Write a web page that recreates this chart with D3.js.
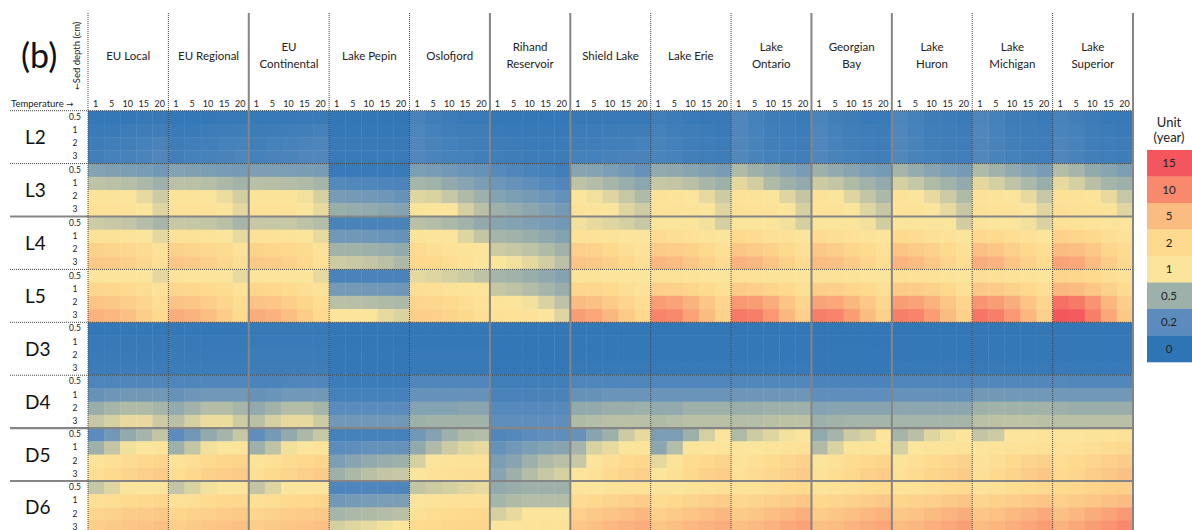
<!DOCTYPE html>
<html>
<head>
<meta charset="utf-8">
<script src="https://cdn.jsdelivr.net/npm/d3@7/dist/d3.min.js"></script>
<style>
  html, body { margin: 0; padding: 0; background: #fff; }
  svg { display: block; font-family: Lato, "Open Sans", sans-serif; }
</style>
</head>
<body>
<svg id="chart" width="1192" height="530"></svg>
<script>
// ---- categories ----
const sites = ["EU Local", "EU Regional", "EU\nContinental", "Lake Pepin", "Oslofjord",
  "Rihand\nReservoir", "Shield Lake", "Lake Erie", "Lake\nOntario", "Georgian\nBay",
  "Lake\nHuron", "Lake\nMichigan", "Lake\nSuperior"];
const temps = ["1", "5", "10", "15", "20"];
const depths = ["0.5", "1", "2", "3"];
const groups = ["L2", "L3", "L4", "L5", "D3", "D4", "D5", "D6"];

// ---- colour key (years) ----
const legendValues = [15, 10, 5, 2, 1, 0.5, 0.2, 0];
const legendColors = ["#f3565c", "#f8896d", "#fbbc82", "#fdda8e", "#fbe59c", "#9db0aa", "#5b8cbd", "#2e75b6"];

// ---- values: [site][depth 0.5,1,2,3][temperature 1..20] ----
const valuesL2 = [
  [[.03,.03,.03,.04,.04],[.05,.05,.06,.07,.08],[.07,.08,.09,.10,.12],[.09,.10,.11,.13,.15]],
  [[.03,.03,.03,.04,.04],[.05,.05,.06,.07,.08],[.07,.08,.09,.10,.11],[.09,.10,.11,.12,.14]],
  [[.04,.04,.04,.05,.05],[.06,.07,.08,.09,.10],[.09,.10,.11,.13,.14],[.10,.12,.13,.15,.16]],
  [[.02,.02,.02,.02,.02],[.03,.03,.03,.03,.03],[.04,.04,.04,.04,.04],[.05,.05,.05,.05,.05]],
  [[.12,.08,.06,.05,.05],[.14,.10,.08,.07,.07],[.15,.12,.10,.09,.08],[.16,.13,.11,.10,.09]],
  [[.03,.03,.03,.03,.03],[.05,.04,.04,.04,.04],[.07,.06,.05,.05,.05],[.08,.07,.06,.06,.06]],
  [[.04,.04,.04,.04,.04],[.06,.06,.06,.07,.07],[.08,.08,.09,.09,.10],[.10,.10,.11,.12,.12]],
  [[.08,.06,.05,.04,.04],[.10,.08,.07,.06,.05],[.12,.10,.08,.07,.06],[.13,.11,.09,.08,.07]],
  [[.15,.10,.07,.06,.05],[.15,.11,.08,.07,.06],[.16,.12,.09,.08,.07],[.16,.12,.10,.09,.08]],
  [[.13,.09,.07,.05,.05],[.14,.10,.08,.07,.06],[.15,.11,.09,.08,.07],[.15,.12,.10,.09,.08]],
  [[.14,.10,.07,.06,.05],[.15,.11,.08,.07,.06],[.16,.12,.09,.08,.07],[.16,.12,.10,.09,.08]],
  [[.14,.10,.07,.06,.05],[.15,.11,.08,.07,.06],[.15,.12,.09,.08,.07],[.16,.12,.10,.09,.08]],
  [[.12,.09,.06,.04,.04],[.13,.10,.07,.06,.05],[.14,.11,.08,.07,.06],[.15,.12,.09,.08,.07]]
];
const valuesL3 = [
  [[.38,.37,.35,.33,.30],[.68,.66,.63,.58,.50],[1.2,1.2,1.1,.90,.75],[1.4,1.4,1.3,1.0,.85]],
  [[.38,.37,.35,.33,.32],[.66,.66,.63,.58,.52],[1.2,1.2,1.1,.92,.78],[1.4,1.4,1.3,1.1,.88]],
  [[.36,.36,.35,.34,.33],[.65,.64,.62,.60,.55],[1.2,1.2,1.15,.95,.80],[1.4,1.4,1.3,1.1,.90]],
  [[.05,.05,.05,.05,.05],[.17,.16,.15,.14,.13],[.33,.32,.30,.28,.25],[.48,.47,.45,.42,.38]],
  [[.35,.33,.30,.27,.25],[.55,.52,.45,.40,.35],[.85,.82,.72,.60,.50],[1.2,1.1,1.0,.80,.65]],
  [[.18,.15,.13,.10,.08],[.28,.25,.22,.18,.15],[.38,.35,.32,.28,.24],[.50,.47,.42,.37,.32]],
  [[.40,.38,.35,.30,.25],[.68,.62,.55,.48,.42],[1.1,.95,.85,.72,.60],[1.3,1.2,1.0,.85,.75]],
  [[.45,.43,.40,.37,.33],[.72,.70,.65,.57,.50],[1.3,1.2,1.1,.90,.75],[1.4,1.3,1.2,1.1,.85]],
  [[.60,.50,.45,.38,.33],[.88,.78,.60,.50,.45],[1.3,1.2,1.0,.85,.70],[1.5,1.4,1.3,1.0,.80]],
  [[.50,.45,.40,.35,.32],[.75,.70,.60,.52,.45],[1.3,1.0,.85,.70,.58],[1.4,1.3,1.0,.85,.72]],
  [[.55,.47,.40,.35,.32],[.80,.72,.60,.52,.45],[1.3,1.1,.90,.75,.60],[1.4,1.3,1.1,.90,.72]],
  [[.60,.52,.45,.38,.33],[.88,.80,.68,.58,.48],[1.3,1.2,1.1,.90,.72],[1.5,1.4,1.3,1.1,.85]],
  [[.62,.55,.45,.40,.35],[.90,.80,.65,.55,.50],[1.4,1.3,1.2,.90,.72],[1.6,1.5,1.4,1.2,.85]]
];
const valuesL4 = [
  [[.75,.73,.70,.62,.55],[1.3,1.3,1.2,1.1,.88],[2.8,2.6,2.3,1.8,1.3],[3.8,3.5,3.0,2.3,1.6]],
  [[.73,.72,.70,.65,.55],[1.3,1.3,1.2,1.1,.90],[2.8,2.6,2.3,1.8,1.3],[3.9,3.6,3.0,2.3,1.6]],
  [[.73,.72,.72,.68,.62],[1.3,1.3,1.2,1.1,.90],[2.7,2.5,2.2,1.8,1.3],[3.6,3.3,2.9,2.2,1.5]],
  [[.12,.12,.12,.12,.12],[.30,.30,.28,.27,.25],[.52,.52,.50,.48,.45],[.75,.73,.70,.65,.58]],
  [[.65,.62,.58,.52,.45],[1.2,1.1,1.0,.85,.70],[1.8,1.6,1.4,1.2,1.0],[2.2,2.0,1.7,1.4,1.1]],
  [[.40,.38,.36,.33,.30],[.55,.52,.48,.43,.38],[.75,.72,.68,.60,.52],[1.0,.95,.88,.78,.65]],
  [[.95,.90,.85,.80,.72],[1.4,1.3,1.2,1.1,1.0],[3.0,2.7,2.2,1.6,1.3],[4.2,3.8,3.0,2.2,1.6]],
  [[1.1,1.05,1.0,.95,.80],[1.8,1.6,1.4,1.2,1.05],[3.5,3.2,2.8,2.0,1.5],[5.5,5.0,4.0,2.8,1.8]],
  [[1.1,1.05,1.0,.95,.80],[2.0,1.8,1.5,1.3,1.1],[4.0,3.5,2.8,2.0,1.5],[6.0,5.5,4.2,2.8,1.8]],
  [[1.1,1.05,1.0,.95,.78],[1.8,1.6,1.4,1.2,1.05],[3.8,3.2,2.5,1.9,1.4],[5.0,4.5,3.5,2.5,1.7]],
  [[1.1,1.05,1.0,1.0,.78],[2.0,1.8,1.5,1.3,1.1],[4.2,3.5,2.8,2.0,1.5],[5.8,5.0,3.8,2.6,1.7]],
  [[1.2,1.1,1.05,.95,.82],[2.2,2.0,1.7,1.4,1.1],[4.5,4.0,3.0,2.2,1.6],[6.5,5.8,4.2,2.8,1.9]],
  [[1.4,1.3,1.2,1.1,1.0],[2.8,2.5,2.1,1.6,1.3],[5.0,4.8,3.8,2.5,1.8],[7.5,7.0,5.0,3.3,2.1]]
];
const valuesL5 = [
  [[1.1,1.1,1.05,1.0,.88],[2.5,2.3,2.0,1.7,1.3],[4.2,3.8,3.2,2.5,1.7],[6.0,5.5,4.5,3.2,2.0]],
  [[1.15,1.1,1.05,1.0,.90],[2.5,2.3,2.0,1.7,1.3],[4.3,3.9,3.2,2.5,1.7],[6.5,6.0,4.8,3.3,2.0]],
  [[1.1,1.1,1.05,1.0,.90],[2.4,2.2,1.9,1.6,1.3],[4.3,3.9,3.2,2.4,1.7],[6.5,6.0,4.8,3.3,2.0]],
  [[.12,.12,.12,.12,.12],[.32,.32,.30,.30,.28],[.65,.64,.62,.60,.58],[1.1,1.05,1.0,.90,.82]],
  [[.88,.85,.80,.75,.68],[1.6,1.5,1.3,1.2,1.05],[2.5,2.3,2.0,1.7,1.4],[3.2,3.0,2.6,2.1,1.6]],
  [[.55,.52,.48,.43,.38],[.72,.68,.62,.55,.48],[1.2,1.1,.95,.82,.68],[1.5,1.4,1.25,1.05,.85]],
  [[1.2,1.15,1.1,1.05,1.0],[2.5,2.3,2.0,1.6,1.3],[5.0,4.5,3.5,2.5,1.7],[8.0,7.2,5.5,3.5,2.2]],
  [[1.3,1.25,1.2,1.1,1.05],[3.0,2.8,2.4,1.9,1.5],[8.0,7.5,6.0,4.0,2.5],[10.5,10,7.5,5.0,2.8]],
  [[1.4,1.3,1.2,1.15,1.05],[3.5,3.2,2.6,2.0,1.5],[8.5,8.0,6.5,4.2,2.5],[11.5,11,8.5,5.5,3.0]],
  [[1.3,1.25,1.2,1.1,1.05],[3.2,3.0,2.5,2.0,1.5],[7.5,7.0,5.5,3.8,2.3],[11,10.5,8.0,5.0,2.8]],
  [[1.5,1.4,1.3,1.15,1.05],[3.5,3.3,2.8,2.1,1.5],[8.0,7.5,6.0,4.0,2.4],[11,10.5,8.0,5.0,2.8]],
  [[1.6,1.5,1.3,1.2,1.05],[3.8,3.5,2.9,2.2,1.6],[9.0,8.0,6.5,4.2,2.5],[12,11,8.5,5.5,3.0]],
  [[2.5,2.3,2.0,1.6,1.3],[5.5,5.0,4.0,2.8,1.9],[12.5,11.5,9.0,5.5,3.2],[15,14.5,11,7.0,3.8]]
];
const valuesD3 = [
  [[.03,.03,.03,.03,.03],[.04,.04,.04,.04,.04],[.05,.05,.05,.05,.05],[.06,.06,.06,.06,.06]],
  [[.03,.03,.03,.03,.03],[.04,.04,.04,.04,.04],[.05,.05,.05,.05,.05],[.06,.06,.06,.06,.06]],
  [[.04,.04,.04,.04,.04],[.05,.05,.05,.05,.05],[.06,.06,.06,.06,.06],[.07,.07,.07,.07,.07]],
  [[.02,.02,.02,.02,.02],[.02,.02,.02,.02,.02],[.03,.03,.03,.03,.03],[.03,.03,.03,.03,.03]],
  [[.03,.03,.03,.03,.03],[.03,.03,.03,.03,.03],[.04,.04,.04,.04,.04],[.04,.04,.04,.04,.04]],
  [[.02,.02,.02,.02,.02],[.02,.02,.02,.02,.02],[.02,.02,.02,.02,.02],[.03,.03,.03,.03,.03]],
  [[.02,.02,.02,.02,.02],[.03,.03,.03,.03,.03],[.03,.03,.03,.03,.03],[.04,.04,.04,.04,.04]],
  [[.02,.02,.02,.02,.02],[.03,.03,.03,.03,.03],[.03,.03,.03,.03,.03],[.04,.04,.04,.04,.04]],
  [[.02,.02,.02,.02,.02],[.03,.03,.03,.03,.03],[.03,.03,.03,.03,.03],[.04,.04,.04,.04,.04]],
  [[.02,.02,.02,.02,.02],[.02,.02,.02,.02,.02],[.03,.03,.03,.03,.03],[.03,.03,.03,.03,.03]],
  [[.02,.02,.02,.02,.02],[.03,.03,.03,.03,.03],[.03,.03,.03,.03,.03],[.04,.04,.04,.04,.04]],
  [[.02,.02,.02,.02,.02],[.03,.03,.03,.03,.03],[.03,.03,.03,.03,.03],[.04,.04,.04,.04,.04]],
  [[.02,.02,.02,.02,.02],[.03,.03,.03,.03,.03],[.03,.03,.03,.03,.03],[.04,.04,.04,.04,.04]]
];
const valuesD4 = [
  [[.14,.14,.15,.15,.15],[.25,.28,.30,.30,.30],[.48,.55,.60,.60,.55],[.72,.80,.90,.90,.75]],
  [[.14,.14,.15,.15,.15],[.25,.28,.30,.30,.30],[.45,.52,.62,.62,.55],[.65,.80,.92,.92,.75]],
  [[.13,.13,.14,.15,.15],[.25,.27,.30,.30,.30],[.45,.52,.62,.62,.55],[.65,.80,.90,.90,.75]],
  [[.06,.06,.06,.06,.06],[.10,.10,.10,.10,.10],[.20,.20,.20,.20,.20],[.30,.30,.30,.30,.30]],
  [[.15,.15,.15,.15,.15],[.25,.25,.25,.25,.25],[.38,.38,.38,.40,.40],[.50,.52,.52,.52,.52]],
  [[.08,.08,.08,.08,.08],[.12,.12,.12,.12,.12],[.18,.18,.18,.18,.18],[.22,.22,.22,.22,.22]],
  [[.14,.14,.14,.14,.14],[.25,.25,.27,.27,.27],[.45,.45,.48,.48,.50],[.60,.62,.65,.65,.65]],
  [[.15,.15,.15,.15,.15],[.27,.27,.27,.27,.27],[.45,.45,.50,.50,.50],[.60,.62,.65,.65,.65]],
  [[.16,.16,.16,.16,.16],[.28,.28,.28,.28,.28],[.48,.48,.50,.50,.50],[.62,.63,.65,.67,.67]],
  [[.13,.13,.13,.13,.13],[.22,.22,.22,.22,.22],[.38,.40,.40,.40,.40],[.50,.52,.55,.55,.55]],
  [[.15,.15,.15,.14,.14],[.25,.25,.25,.24,.24],[.42,.42,.42,.42,.42],[.55,.55,.55,.55,.55]],
  [[.16,.16,.16,.16,.16],[.30,.30,.30,.30,.30],[.50,.52,.52,.52,.52],[.65,.67,.68,.68,.65]],
  [[.17,.16,.16,.16,.16],[.30,.30,.30,.30,.30],[.50,.48,.48,.48,.48],[.65,.65,.65,.65,.65]]
];
const valuesD5 = [
  [[.20,.30,.45,.55,.70],[.50,.70,.95,1.1,1.2],[1.2,1.5,1.8,2.2,2.5],[1.6,2.0,2.6,3.0,3.5]],
  [[.20,.30,.45,.55,.72],[.50,.70,.95,1.1,1.2],[1.3,1.6,2.0,2.4,2.6],[1.7,2.2,2.8,3.2,3.5]],
  [[.22,.32,.45,.58,.72],[.50,.68,.95,1.1,1.2],[1.2,1.5,1.8,2.2,2.5],[1.6,2.0,2.5,3.0,3.5]],
  [[.10,.10,.10,.10,.10],[.20,.22,.24,.25,.25],[.35,.40,.45,.48,.50],[.50,.58,.65,.70,.72]],
  [[.30,.38,.50,.60,.62],[.45,.60,.75,.85,.90],[.80,1.1,1.2,1.3,1.3],[1.1,1.3,1.5,1.6,1.6]],
  [[.15,.17,.20,.22,.22],[.25,.30,.35,.38,.40],[.35,.40,.50,.60,.65],[.40,.50,.62,.72,.80]],
  [[.25,.40,.50,.75,.90],[.55,.82,.90,1.1,1.2],[.72,1.1,1.6,2.0,2.3],[1.0,1.4,2.0,2.6,3.0]],
  [[.35,.35,.50,.80,1.1],[.42,.62,1.05,1.1,1.2],[.88,1.2,1.8,2.2,2.6],[1.1,1.5,2.2,2.8,3.2]],
  [[.60,.75,.85,.95,1.1],[1.05,1.1,1.2,1.3,1.4],[1.2,1.5,1.9,2.3,2.8],[1.4,1.8,2.3,2.8,3.5]],
  [[.45,.55,.75,.82,1.05],[.60,.82,1.1,1.15,1.2],[1.1,1.4,1.8,2.2,2.6],[1.3,1.7,2.2,2.8,3.3]],
  [[.55,.65,.85,.95,1.1],[.80,1.05,1.15,1.2,1.3],[1.15,1.5,1.9,2.3,2.8],[1.4,1.8,2.4,2.9,3.5]],
  [[.70,.75,1.05,1.1,1.15],[1.1,1.15,1.3,1.4,1.5],[1.3,1.6,2.0,2.6,3.0],[1.5,2.0,2.6,3.3,4.0]],
  [[1.1,1.1,1.15,1.2,1.3],[1.3,1.4,1.6,1.8,2.0],[1.7,2.0,2.5,3.0,3.5],[2.0,2.5,3.2,3.8,4.5]]
];
const valuesD6 = [
  [[.72,.85,1.05,1.1,1.1],[1.5,1.7,2.0,2.2,2.4],[2.5,2.8,3.3,3.5,3.8],[3.2,3.6,4.0,4.3,4.5]],
  [[.70,.82,.95,1.05,1.1],[1.4,1.6,1.9,2.1,2.3],[2.4,2.7,3.1,3.4,3.7],[3.2,3.5,4.0,4.3,4.5]],
  [[.70,.85,1.05,1.1,1.1],[1.5,1.7,2.0,2.2,2.4],[2.5,2.8,3.2,3.5,3.8],[3.2,3.6,4.0,4.3,4.5]],
  [[.14,.14,.14,.14,.14],[.30,.32,.33,.35,.35],[.55,.58,.60,.62,.65],[.80,.85,.90,.95,1.0]],
  [[.70,.75,.80,.85,.90],[1.1,1.2,1.3,1.4,1.4],[1.5,1.7,1.9,2.0,2.1],[1.8,2.0,2.3,2.4,2.5]],
  [[.45,.48,.50,.50,.50],[.55,.60,.62,.62,.62],[.80,.90,1.05,1.1,1.1],[1.0,1.1,1.2,1.3,1.3]],
  [[1.05,1.1,1.2,1.3,1.4],[1.8,2.2,2.6,3.0,3.4],[3.0,3.6,4.2,4.8,5.5],[4.0,4.6,5.4,6.0,6.5]],
  [[1.05,1.1,1.2,1.4,1.5],[1.8,2.2,2.6,3.0,3.4],[3.0,3.5,4.2,4.8,5.5],[4.0,4.5,5.3,6.0,6.5]],
  [[1.3,1.4,1.6,1.8,2.0],[2.3,2.6,3.0,3.5,4.0],[3.5,4.0,4.8,5.5,6.2],[4.5,5.2,6.0,6.8,7.5]],
  [[1.2,1.3,1.5,1.7,1.9],[2.2,2.5,2.9,3.3,3.8],[3.4,3.9,4.6,5.3,6.0],[4.5,5.0,5.8,6.5,7.2]],
  [[1.3,1.4,1.6,1.8,2.0],[2.4,2.7,3.1,3.6,4.1],[3.8,4.3,5.0,5.8,6.5],[5.0,5.5,6.3,7.0,7.8]],
  [[1.4,1.5,1.7,1.9,2.1],[2.5,2.8,3.2,3.7,4.2],[3.9,4.4,5.2,6.0,6.8],[5.0,5.6,6.4,7.2,8.0]],
  [[2.0,2.2,2.5,2.8,3.0],[3.0,3.5,4.0,4.5,5.0],[4.5,5.5,6.5,7.5,8.5],[6.0,7.0,8.0,9.0,10.0]]
];

const groupValues = [valuesL2, valuesL3, valuesL4, valuesL5, valuesD3, valuesD4, valuesD5, valuesD6];

// ---- scales ----
const svg = d3.select("#chart");
const plotLeft = 88, plotRight = 1133, plotTop = 110.7, groupH = 52.9;

const x = d3.scaleBand().domain(sites).range([plotLeft, plotRight]);
const xt = d3.scaleBand().domain(temps).range([0, x.bandwidth()]);
const y = d3.scaleBand().domain(groups).range([plotTop, plotTop + groupH * groups.length]);
const yd = d3.scaleBand().domain(depths).range([0, y.bandwidth()]);

const color = d3.scaleLinear()
  .domain(legendValues.slice().reverse())
  .range(legendColors.slice().reverse())
  .interpolate(d3.interpolateRgb)
  .clamp(true);

// ---- cells ----
const cells = [];
groups.forEach((g, gi) => {
  sites.forEach((s, si) => {
    depths.forEach((d, di) => {
      temps.forEach((t, ti) => {
        cells.push({ g, s, d, t, v: groupValues[gi][si][di][ti] });
      });
    });
  });
});

svg.append("g").selectAll("rect")
  .data(cells)
  .join("rect")
  .attr("x", c => x(c.s) + xt(c.t))
  .attr("y", c => y(c.g) + yd(c.d))
  .attr("width", xt.bandwidth() + 0.4)
  .attr("height", yd.bandwidth() + 0.4)
  .attr("fill", c => color(c.v));

// ---- grid lines ----
const grid = svg.append("g");
const thickRows = new Set(["L4", "D5", "D6"]);
const thickCols = new Set(["EU\nContinental", "Rihand\nReservoir", "Shield Lake", "Georgian\nBay", "Lake\nHuron"]);

// header rule and group separators
grid.append("line")
  .attr("x1", 10).attr("x2", plotRight).attr("y1", plotTop).attr("y2", plotTop)
  .attr("stroke", "#444").attr("stroke-width", 1).attr("stroke-dasharray", "1,1");
groups.slice(1).forEach(g => {
  const yy = y(g);
  const thick = thickRows.has(g);
  grid.append("line")
    .attr("x1", 10).attr("x2", plotRight).attr("y1", yy).attr("y2", yy)
    .attr("stroke", thick ? "#858585" : "#444")
    .attr("stroke-width", thick ? 2.2 : 1)
    .attr("stroke-dasharray", thick ? null : "1,1");
});

// site separators
sites.forEach(s => {
  const xx = x(s);
  const thick = thickCols.has(s);
  grid.append("line")
    .attr("x1", xx).attr("x2", xx).attr("y1", 13).attr("y2", 530)
    .attr("stroke", thick ? "#858585" : "#444")
    .attr("stroke-width", thick ? 2 : 1)
    .attr("stroke-dasharray", thick ? null : "1,1");
});
grid.append("line")
  .attr("x1", plotRight).attr("x2", plotRight).attr("y1", 13).attr("y2", 530)
  .attr("stroke", "#858585").attr("stroke-width", 2);

// ---- header text ----
const siteHeads = svg.append("g").attr("fill", "#222").attr("font-size", 11.5);
sites.forEach(s => {
  const lines = s.split("\n");
  const cx = x(s) + x.bandwidth() / 2;
  lines.forEach((ln, i) => {
    siteHeads.append("text")
      .attr("x", cx)
      .attr("y", lines.length === 1 ? 60 : 51 + i * 17)
      .attr("text-anchor", "middle")
      .text(ln);
  });
});

// temperature labels under each site
const tempLabels = svg.append("g").attr("fill", "#222").attr("font-size", 9);
sites.forEach(s => {
  temps.forEach(t => {
    tempLabels.append("text")
      .attr("x", x(s) + xt(t) + xt.bandwidth() / 2 - 0.5)
      .attr("y", 107)
      .attr("text-anchor", "middle")
      .text(t);
  });
});

svg.append("text")
  .attr("x", 21).attr("y", 68)
  .attr("font-size", 34).attr("fill", "#111")
  .text("(b)");

const sedLabel = svg.append("text")
  .attr("transform", "translate(80,56) rotate(-90)")
  .attr("text-anchor", "middle")
  .attr("font-size", 9.5).attr("fill", "#222");
sedLabel.append("tspan").attr("font-family", "DejaVu Sans").attr("font-size", 8.5).text("\u2190");
sedLabel.append("tspan").text("Sed depth (cm)");

const tempTitle = svg.append("text")
  .attr("x", 11).attr("y", 107)
  .attr("font-size", 9.5).attr("fill", "#222");
tempTitle.append("tspan").text("Temperature ");
tempTitle.append("tspan").attr("font-family", "DejaVu Sans").attr("font-size", 8.5).text("\u2192");

// ---- row labels ----
const rowLabels = svg.append("g");
groups.forEach(g => {
  rowLabels.append("text")
    .attr("x", 25).attr("y", y(g) + y.bandwidth() / 2 + 7)
    .attr("font-size", 19).attr("fill", "#111")
    .text(g);
  depths.forEach(d => {
    rowLabels.append("text")
      .attr("x", 75).attr("y", y(g) + yd(d) + yd.bandwidth() / 2 + 2.5)
      .attr("text-anchor", "middle")
      .attr("font-size", 8.5).attr("fill", "#222")
      .text(d);
  });
});

// ---- colour key ----
const key = svg.append("g");
key.append("text").attr("x", 1169).attr("y", 127).attr("text-anchor", "middle")
  .attr("font-size", 13).attr("fill", "#222").text("Unit");
key.append("text").attr("x", 1169).attr("y", 142).attr("text-anchor", "middle")
  .attr("font-size", 13).attr("fill", "#222").text("(year)");

const keyY = d3.scaleBand().domain(legendValues).range([150, 362]);
key.selectAll("rect")
  .data(legendValues)
  .join("rect")
  .attr("x", 1147).attr("y", v => keyY(v))
  .attr("width", 45).attr("height", keyY.bandwidth() + 0.3)
  .attr("fill", v => color(v));
key.selectAll("text.lab")
  .data(legendValues)
  .join("text")
  .attr("class", "lab")
  .attr("x", 1169).attr("y", v => keyY(v) + keyY.bandwidth() / 2 + 4)
  .attr("text-anchor", "middle")
  .attr("font-size", 11.5).attr("fill", "#222")
  .text(v => v);
</script>
</body>
</html>
